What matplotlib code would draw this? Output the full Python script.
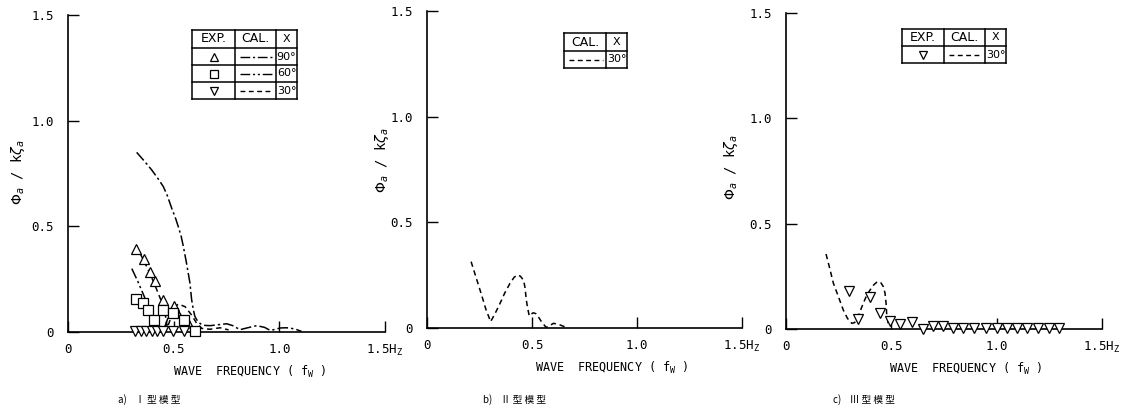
import matplotlib.pyplot as plt
from matplotlib.lines import Line2D

# ---- data ----
# panel a) type I model
a_cal90_f = [0.325, 0.36, 0.396, 0.43, 0.451, 0.47, 0.491, 0.51, 0.522, 0.535, 0.546, 0.56, 0.577,
             0.585, 0.593, 0.60, 0.609, 0.62, 0.632, 0.65, 0.672, 0.70, 0.751, 0.78, 0.814, 0.85,
             0.893, 0.93, 0.956, 0.98, 1.003, 1.03, 1.05, 1.08, 1.105]
a_cal90_v = [0.85, 0.81, 0.767, 0.72, 0.688, 0.645, 0.585, 0.535, 0.498, 0.455, 0.404, 0.33, 0.232,
             0.153, 0.106, 0.075, 0.058, 0.045, 0.035, 0.031, 0.030, 0.033, 0.039, 0.030, 0.011, 0.020,
             0.030, 0.022, 0.008, 0.012, 0.019, 0.020, 0.019, 0.012, 0.003]
a_cal60_f = [0.302, 0.33, 0.36, 0.38, 0.404, 0.42, 0.44, 0.46, 0.475, 0.491, 0.505, 0.52, 0.546,
             0.565, 0.577, 0.59, 0.60]
a_cal60_v = [0.30, 0.24, 0.17, 0.12, 0.057, 0.025, 0.006, 0.03, 0.072, 0.105, 0.115, 0.105, 0.06,
             0.03, 0.017, 0.008, 0.004]
a_cal30_f = [0.341, 0.36, 0.38, 0.408, 0.443, 0.462, 0.47, 0.483, 0.498, 0.522, 0.554, 0.585, 0.609,
             0.633, 0.672, 0.72, 0.76]
a_cal30_v = [0.372, 0.335, 0.293, 0.230, 0.143, 0.072, 0.02, 0.057, 0.112, 0.132, 0.12, 0.08, 0.041,
             0.017, 0.013, 0.02, 0.01]
a_exp90_f = [0.320, 0.361, 0.386, 0.412, 0.451, 0.501, 0.561]
a_exp90_v = [0.392, 0.345, 0.282, 0.243, 0.150, 0.121, 0.050]
a_exp60_f = [0.322, 0.353, 0.380, 0.408, 0.451, 0.498, 0.550, 0.601]
a_exp60_v = [0.156, 0.137, 0.106, 0.055, 0.106, 0.090, 0.058, 0.006]
a_exp30_f = [0.319, 0.345, 0.371, 0.396, 0.423, 0.451, 0.498, 0.550]
a_exp30_v = [0.006, 0.006, 0.006, 0.006, 0.006, 0.006, 0.006, 0.006]

# panel b) type II model
b_cal30_f = [0.21, 0.235, 0.26, 0.28, 0.303, 0.325, 0.348, 0.37, 0.395, 0.415, 0.43, 0.445, 0.46,
             0.467, 0.472, 0.478, 0.487, 0.495, 0.506, 0.518, 0.53, 0.545, 0.567, 0.585, 0.602,
             0.625, 0.65, 0.67]
b_cal30_v = [0.314, 0.235, 0.156, 0.09, 0.030, 0.07, 0.117, 0.165, 0.211, 0.24, 0.251, 0.245, 0.225,
             0.19, 0.14, 0.10, 0.057, 0.065, 0.072, 0.068, 0.053, 0.03, 0.003, 0.012, 0.022,
             0.018, 0.008, 0.0]

# panel c) type III model
c_cal30_f = [0.19, 0.207, 0.225, 0.25, 0.272, 0.292, 0.312, 0.325, 0.336, 0.35, 0.367, 0.383, 0.399,
             0.417, 0.434, 0.45, 0.462, 0.47, 0.475, 0.478, 0.486]
c_cal30_v = [0.356, 0.29, 0.217, 0.15, 0.090, 0.05, 0.027, 0.03, 0.043, 0.08, 0.122, 0.16, 0.185,
             0.21, 0.225, 0.22, 0.201, 0.17, 0.122, 0.07, 0.02]
c_exp30_f = [0.301, 0.343, 0.399, 0.446, 0.494, 0.541, 0.597, 0.649, 0.696, 0.744, 0.794, 0.842,
             0.894, 0.949, 1.000, 1.047, 1.098, 1.145, 1.197, 1.249, 1.297]
c_exp30_v = [0.182, 0.046, 0.153, 0.077, 0.038, 0.022, 0.032, 0.002, 0.016, 0.016, 0.003, 0.005,
             0.003, 0.005, 0.005, 0.005, 0.003, 0.003, 0.003, 0.005, 0.005]

ticks = [0, 0.5, 1.0, 1.5]
ytick_labels = ['0', '0.5', '1.0', '1.5']
xtick_labels = ['0', '0.5', '1.0', r'1.5H$_\mathregular{Z}$']
captions = ['a)    \u2160 型 模 型', 'b)    \u2161 型 模 型', 'c)    \u2162 型 模 型']

LS90 = (0, (7, 2, 1.5, 2))
LS60 = (0, (7, 2, 1.5, 2, 1.5, 2))
LS30 = (0, (3.5, 2.5))
MK = dict(ms=6.5, mfc='white', mec='black', mew=0.9, ls='none', clip_on=False, zorder=4)

plt.rcParams['font.family'] = ['DejaVu Sans Mono']
W, H = 1139, 412
fig = plt.figure(figsize=(W / 100, H / 100), dpi=100)


def fx(px):
    return px / W


def fy(py):
    return 1 - py / H


def make_axes(left, top, right, bottom, lab_dx, lab_y, xlab_x):
    ax = fig.add_axes([fx(left), fy(bottom), (right - left) / W, (bottom - top) / H])
    ax.set_xlim(0, 1.5)
    ax.set_ylim(0, 1.5)
    for s in ['top', 'right']:
        ax.spines[s].set_visible(False)
    for s in ['left', 'bottom']:
        ax.spines[s].set_linewidth(1.2)
    ax.set_xticks(ticks)
    ax.set_xticklabels(xtick_labels)
    ax.set_yticks(ticks)
    ax.set_yticklabels(ytick_labels)
    ax.tick_params(direction='in', length=8, width=1, labelsize=9)
    ax.tick_params(axis='y', pad=10)
    ax.tick_params(axis='x', pad=8)
    h = bottom - top
    w = right - left
    ax.text(-lab_dx / w, (bottom - lab_y) / h, r'$\Phi_a$ / k$\zeta_a$', rotation=90,
            ha='center', va='center', fontsize=10, transform=ax.transAxes)
    ax.text((xlab_x - left) / w, -40 / h, r'WAVE  FREQUENCY ( f$_\mathregular{W}$ )',
            ha='center', va='center', fontsize=8.5, transform=ax.transAxes)
    return ax


def hline(x0, x1, y, **kw):
    fig.add_artist(Line2D([fx(x0), fx(x1)], [fy(y), fy(y)], color='black', **kw))


def vline(x, y0, y1, **kw):
    fig.add_artist(Line2D([fx(x), fx(x)], [fy(y0), fy(y1)], color='black', **kw))


def draw_table(cols, rows, cells):
    for y in rows:
        hline(cols[0], cols[-1], y, lw=1.1)
    for x in cols:
        vline(x, rows[0], rows[-1], lw=1.1)
    for r, row in enumerate(cells):
        yc = (rows[r] + rows[r + 1]) / 2
        for c, cell in enumerate(row):
            x0, x1 = cols[c], cols[c + 1]
            kind, val = cell
            if kind == 'text':
                size = 9 if x1 - x0 > 30 else 8
                fig.text(fx((x0 + x1) / 2), fy(yc), val, ha='center', va='center',
                         fontsize=size, family='DejaVu Sans')
            elif kind == 'marker':
                fig.add_artist(Line2D([fx((x0 + x1) / 2)], [fy(yc)], marker=val, ms=6,
                                      mfc='white', mec='black', mew=0.9, ls='none'))
            elif kind == 'line':
                hline(x0 + 5, x1 - 3, yc, lw=1, ls=val)


# ---- panel a ----
ax1 = make_axes(68, 15, 385, 332, 50, 172, 250)
ax1.plot(a_cal90_f, a_cal90_v, color='black', lw=1.1, ls=LS90)
ax1.plot(a_cal60_f, a_cal60_v, color='black', lw=1.1, ls=LS60)
ax1.plot(a_cal30_f, a_cal30_v, color='black', lw=1.1, ls=LS30)
ax1.plot(a_exp90_f, a_exp90_v, marker='^', **MK)
ax1.plot(a_exp60_f, a_exp60_v, marker='s', **MK)
ax1.plot(a_exp30_f, a_exp30_v, marker='v', **MK)
draw_table([192, 235, 276, 297], [30, 48, 65, 82, 99],
           [[('text', 'EXP.'), ('text', 'CAL.'), ('text', 'X')],
            [('marker', '^'), ('line', LS90), ('text', '90°')],
            [('marker', 's'), ('line', LS60), ('text', '60°')],
            [('marker', 'v'), ('line', LS30), ('text', '30°')]])

# ---- panel b ----
ax2 = make_axes(427, 11, 742, 328, 45, 160, 612)
ax2.plot(b_cal30_f, b_cal30_v, color='black', lw=1.1, ls=LS30)
draw_table([564, 606, 627], [33, 51, 68],
           [[('text', 'CAL.'), ('text', 'X')],
            [('line', LS30), ('text', '30°')]])

# ---- panel c ----
ax3 = make_axes(786, 13, 1102, 329, 55, 167, 966)
ax3.plot(c_cal30_f, c_cal30_v, color='black', lw=1.1, ls=LS30)
ax3.plot(c_exp30_f, c_exp30_v, marker='v', **MK)
draw_table([902, 944, 985, 1006], [29, 46, 63],
           [[('text', 'EXP.'), ('text', 'CAL.'), ('text', 'X')],
            [('marker', 'v'), ('line', LS30), ('text', '30°')]])

# captions
for x, txt in zip([118, 483, 833], captions):
    fig.text(fx(x), fy(400), txt, ha='left', va='center', fontsize=7,
             family=['Noto Sans CJK SC', 'DejaVu Sans'])

fig.savefig('out.png', dpi=100)
